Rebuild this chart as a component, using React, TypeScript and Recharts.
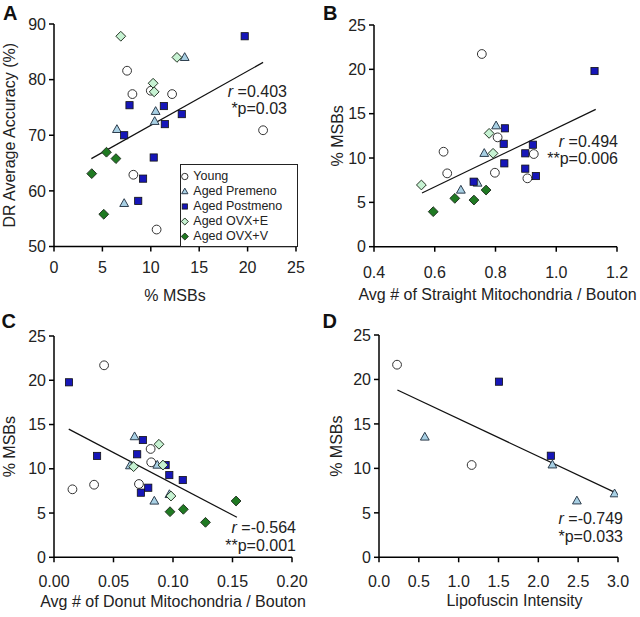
import React from 'react';
import { ScatterChart, Scatter, XAxis, YAxis, ReferenceLine, Legend, Label } from 'recharts';

const FONT = "'Liberation Sans', Arial, Helvetica, sans-serif";

// groups
const groupNames = ['Young', 'Aged Premeno', 'Aged Postmeno', 'Aged OVX+E', 'Aged OVX+V'];

// Panel A: % MSBs vs DR average accuracy
const youngA = [
  { x: 7.55, y: 81.6 }, { x: 8.1, y: 77.4 }, { x: 10.0, y: 78.0 }, { x: 12.2, y: 77.4 },
  { x: 8.2, y: 62.9 }, { x: 10.6, y: 53.05 }, { x: 21.6, y: 70.9 },
];
const premenoA = [
  { x: 13.5, y: 84.0 }, { x: 10.5, y: 74.3 }, { x: 10.4, y: 72.5 }, { x: 6.5, y: 71.05 }, { x: 7.25, y: 57.75 },
];
const postmenoA = [
  { x: 19.7, y: 87.8 }, { x: 7.8, y: 75.4 }, { x: 11.35, y: 75.25 }, { x: 13.2, y: 73.8 }, { x: 11.45, y: 72.0 },
  { x: 7.25, y: 70.0 }, { x: 10.3, y: 66.0 }, { x: 9.2, y: 62.2 }, { x: 8.7, y: 58.2 },
];
const ovxEA = [{ x: 6.9, y: 87.8 }, { x: 12.7, y: 84.0 }, { x: 10.24, y: 79.35 }, { x: 10.35, y: 77.8 }];
const ovxVA = [{ x: 5.42, y: 66.95 }, { x: 6.4, y: 65.8 }, { x: 3.9, y: 63.1 }, { x: 5.14, y: 55.8 }];
const trendA = [{ x: 3.86, y: 65.8 }, { x: 21.6, y: 83.1 }];
const statsA = ['0.403', '*p=0.03'];

// Panel B: straight mitochondria vs % MSBs
const youngB = [
  { x: 0.755, y: 21.73 }, { x: 0.629, y: 10.71 }, { x: 0.807, y: 12.33 }, { x: 0.926, y: 10.45 },
  { x: 0.641, y: 8.27 }, { x: 0.798, y: 8.34 }, { x: 0.905, y: 7.71 },
];
const premenoB = [{ x: 0.802, y: 13.64 }, { x: 0.763, y: 10.53 }, { x: 0.741, y: 7.18 }, { x: 0.686, y: 6.39 }];
const postmenoB = [
  { x: 1.126, y: 19.81 }, { x: 0.831, y: 13.35 }, { x: 0.827, y: 11.6 }, { x: 0.923, y: 11.5 }, { x: 0.898, y: 10.53 },
  { x: 0.829, y: 9.4 }, { x: 0.898, y: 8.8 }, { x: 0.933, y: 7.97 }, { x: 0.728, y: 7.33 },
];
const ovxEB = [{ x: 0.779, y: 12.78 }, { x: 0.792, y: 10.53 }, { x: 0.556, y: 6.96 }];
const ovxVB = [{ x: 0.769, y: 6.39 }, { x: 0.666, y: 5.45 }, { x: 0.729, y: 5.26 }, { x: 0.595, y: 3.95 }];
const trendB = [{ x: 0.558, y: 6.06 }, { x: 1.13, y: 15.49 }];
const statsB = ['0.494', '**p=0.006'];

// Panel C: donut mitochondria vs % MSBs
const youngC = [
  { x: 0.0421, y: 21.69 }, { x: 0.0155, y: 7.68 }, { x: 0.0337, y: 8.2 },
  { x: 0.0812, y: 12.24 }, { x: 0.0817, y: 10.73 }, { x: 0.0714, y: 8.28 },
];
const premenoC = [
  { x: 0.0677, y: 13.63 }, { x: 0.0638, y: 10.35 }, { x: 0.0868, y: 10.42 }, { x: 0.097, y: 7.1 }, { x: 0.0843, y: 6.36 },
];
const postmenoC = [
  { x: 0.0126, y: 19.77 }, { x: 0.0362, y: 11.45 }, { x: 0.0747, y: 13.25 }, { x: 0.0699, y: 11.64 },
  { x: 0.0938, y: 10.42 }, { x: 0.0969, y: 9.29 }, { x: 0.1082, y: 8.73 }, { x: 0.0792, y: 7.86 }, { x: 0.073, y: 7.3 },
];
const ovxEC = [{ x: 0.0882, y: 12.77 }, { x: 0.0669, y: 10.24 }, { x: 0.0916, y: 10.42 }, { x: 0.0983, y: 6.92 }];
const ovxVC = [{ x: 0.0975, y: 5.15 }, { x: 0.1087, y: 5.42 }, { x: 0.1273, y: 3.95 }, { x: 0.153, y: 6.36 }];
const trendC = [{ x: 0.0124, y: 14.48 }, { x: 0.1537, y: 4.52 }];
const statsC = ['-0.564', '**p=0.001'];

// Panel D: lipofuscin vs % MSBs
const youngD = [{ x: 0.2265, y: 21.66 }, { x: 1.163, y: 10.38 }];
const premenoD = [{ x: 0.575, y: 13.53 }, { x: 2.177, y: 10.4 }, { x: 2.484, y: 6.35 }, { x: 2.957, y: 7.15 }];
const postmenoD = [{ x: 1.506, y: 19.75 }, { x: 2.157, y: 11.42 }];
const trendD = [{ x: 0.231, y: 18.81 }, { x: 2.987, y: 7.19 }];
const statsD = ['-0.749', '*p=0.033'];

const ticksA_x = [0, 5, 10, 15, 20, 25];
const ticksA_y = [50, 60, 70, 80, 90];
const ticksB_x = [0.4, 0.6, 0.8, 1.0, 1.2];
const ticksC_x = [0, 0.05, 0.1, 0.15, 0.2];
const ticksD_x = [0, 0.5, 1, 1.5, 2, 2.5, 3];
const ticksMSB = [0, 5, 10, 15, 20, 25];

// marker drawing, s = scale (legend uses smaller symbols)
const drawSymbol = (name: string, cx: number, cy: number, s = 1) => {
  if (name === 'Young') return <circle cx={cx} cy={cy} r={4.4 * s} fill="#fff" stroke="#333" strokeWidth={1} />;
  if (name === 'Aged Premeno') {
    const pts = `${cx},${cy - 4.7 * s} ${cx + 4.4 * s},${cy + 3.1 * s} ${cx - 4.4 * s},${cy + 3.1 * s}`;
    return <polygon points={pts} fill="#a8d0e4" stroke="#2d3d4d" strokeWidth={1} />;
  }
  if (name === 'Aged Postmeno') {
    const h = 3.6 * s;
    return <rect x={cx - h} y={cy - h} width={h * 2} height={h * 2} fill="#1616b8" stroke="#111" strokeWidth={0.8} />;
  }
  const d = 4.9 * s;
  const pts = `${cx},${cy - d} ${cx + d},${cy} ${cx},${cy + d} ${cx - d},${cy}`;
  const fill = name === 'Aged OVX+E' ? '#c6f2d2' : '#1f7a22';
  return <polygon points={pts} fill={fill} stroke="#253525" strokeWidth={1} />;
};

const shapeFor = (name: string) => (p: any) => <g>{drawSymbol(name, p.cx, p.cy)}</g>;

// legend keeps the series order
const renderLegend = () => (
  <div
    style={{
      width: 118.5, height: 82.5, boxSizing: 'border-box', border: '1px solid #222',
      background: '#fff', paddingTop: 3.5,
    }}
  >
    {groupNames.map((name) => (
      <div key={name} style={{ position: 'relative', height: 15 }}>
        <svg width={10} height={15} style={{ position: 'absolute', left: 0, top: 0 }}>
          {drawSymbol(name, 3.8, 7.5, 0.72)}
        </svg>
        <span style={{ position: 'absolute', left: 12.8, top: 0, fontSize: 12.5, lineHeight: '15px', color: '#222', whiteSpace: 'nowrap' }}>
          {name}
        </span>
      </div>
    ))}
  </div>
);

const Panel = (p: any) => {
  const axisStyle = { stroke: '#000', strokeWidth: 1.5 };
  return (
    <div style={{ position: 'absolute', left: p.left, top: p.top, width: 320, height: p.height }}>
      <ScatterChart width={320} height={p.height} margin={p.margin}>
        <XAxis
          type="number" dataKey="x" domain={p.xDomain} ticks={p.xTicks} interval={0}
          tickFormatter={(v: number) => v.toFixed(p.xDigits)} height={p.xHeight}
          axisLine={axisStyle} tickLine={axisStyle} tickSize={5} tickMargin={p.xTickMargin}
          tick={{ fill: '#222', fontSize: 16 }} allowDataOverflow
        >
          <Label value={p.xLabel} position="insideBottom" offset={0} dx={p.xLabelDx || 0} fill="#222" style={{ fontSize: 16 }} />
        </XAxis>
        <YAxis
          type="number" dataKey="y" domain={p.yDomain} ticks={p.yTicks} interval={0} width={p.yWidth}
          axisLine={axisStyle} tickLine={axisStyle} tickSize={5} tickMargin={3}
          tick={{ fill: '#222', fontSize: 16 }} allowDataOverflow
        >
          <Label value={p.yLabel} angle={-90} position="insideLeft" offset={p.yLabelX} fill="#222" style={{ fontSize: 16, textAnchor: 'middle' }} />
        </YAxis>
        {p.groups.map((g: any) => (
          <Scatter key={g.name} name={g.name} data={g.data} shape={shapeFor(g.name)} isAnimationActive={false} />
        ))}
        <ReferenceLine segment={p.trend} stroke="#111" strokeWidth={1.2} ifOverflow="visible" />
        {p.legend && (
          <Legend layout="vertical" align="center" verticalAlign="middle" content={renderLegend}
            wrapperStyle={{ left: 179.5, top: 164 }} />
        )}
      </ScatterChart>
      <div style={{ position: 'absolute', left: p.letterPos[0], top: p.letterPos[1], fontSize: 20, fontWeight: 'bold', lineHeight: '20px', color: '#111' }}>
        {p.letter}
      </div>
      <div
        style={{
          position: 'absolute', right: p.statsPos[0], top: p.statsPos[1], textAlign: 'right',
          fontSize: 16, lineHeight: `${p.statsPos[2]}px`, color: '#222', whiteSpace: 'nowrap',
        }}
      >
        <div><i>r</i> ={p.stats[0]}</div>
        <div>{p.stats[1]}</div>
      </div>
    </div>
  );
};

export default function App() {
  const mk = (sets: any[]) => sets.map((data, i) => ({ name: groupNames[i], data })).filter((g) => g.data);
  return (
    <div style={{ position: 'absolute', left: 0, top: 0, width: 640, height: 617, background: '#fff', fontFamily: FONT }}>
      <Panel
        left={0} top={0} height={308} letter="A" letterPos={[3, 2.5]}
        margin={{ top: 24, right: 24, left: 0, bottom: 7 }} yWidth={54} xHeight={54.5} xTickMargin={10.5}
        xDomain={[0, 25]} xTicks={ticksA_x} xDigits={0} yDomain={[50, 90]} yTicks={ticksA_y}
        xLabel="% MSBs" yLabel="DR Average Accuracy (%)" yLabelX={9}
        groups={mk([youngA, premenoA, postmenoA, ovxEA, ovxVA])} trend={trendA}
        stats={statsA} statsPos={[33, 82.7, 17.6]} legend
      />
      <Panel
        left={320} top={0} height={308} letter="B" letterPos={[3, 2.5]}
        margin={{ top: 25, right: 23, left: 0, bottom: 8 }} yWidth={54} xHeight={53.3} xTickMargin={14.5}
        xDomain={[0.4, 1.2]} xTicks={ticksB_x} xDigits={1} yDomain={[0, 25]} yTicks={ticksMSB}
        xLabel="Avg # of Straight Mitochondria / Bouton" yLabel="% MSBs" yLabelX={17} xLabelDx={2}
        groups={mk([youngB, premenoB, postmenoB, ovxEB, ovxVB])} trend={trendB}
        stats={statsB} statsPos={[22, 132.7, 17.3]}
      />
      <Panel
        left={0} top={310} height={307} letter="C" letterPos={[1.5, 1]}
        margin={{ top: 26, right: 28, left: 0, bottom: 10 }} yWidth={54} xHeight={49.7} xTickMargin={13}
        xDomain={[0, 0.2]} xTicks={ticksC_x} xDigits={2} yDomain={[0, 25]} yTicks={ticksMSB}
        xLabel="Avg # of Donut Mitochondria / Bouton" yLabel="% MSBs" yLabelX={9.5}
        groups={mk([youngC, premenoC, postmenoC, ovxEC, ovxVC])} trend={trendC}
        stats={statsC} statsPos={[24, 208.7, 18]}
      />
      <Panel
        left={320} top={310} height={307} letter="D" letterPos={[2.5, 1]}
        margin={{ top: 25, right: 22, left: 0, bottom: 11 }} yWidth={59} xHeight={48.7} xTickMargin={13}
        xDomain={[0, 3]} xTicks={ticksD_x} xDigits={1} yDomain={[0, 25]} yTicks={ticksMSB}
        xLabel="Lipofuscin Intensity" yLabel="% MSBs" yLabelX={16.5} xLabelDx={16}
        groups={mk([youngD, premenoD, postmenoD])} trend={trendD}
        stats={statsD} statsPos={[17, 200.3, 17.4]}
      />
    </div>
  );
}
